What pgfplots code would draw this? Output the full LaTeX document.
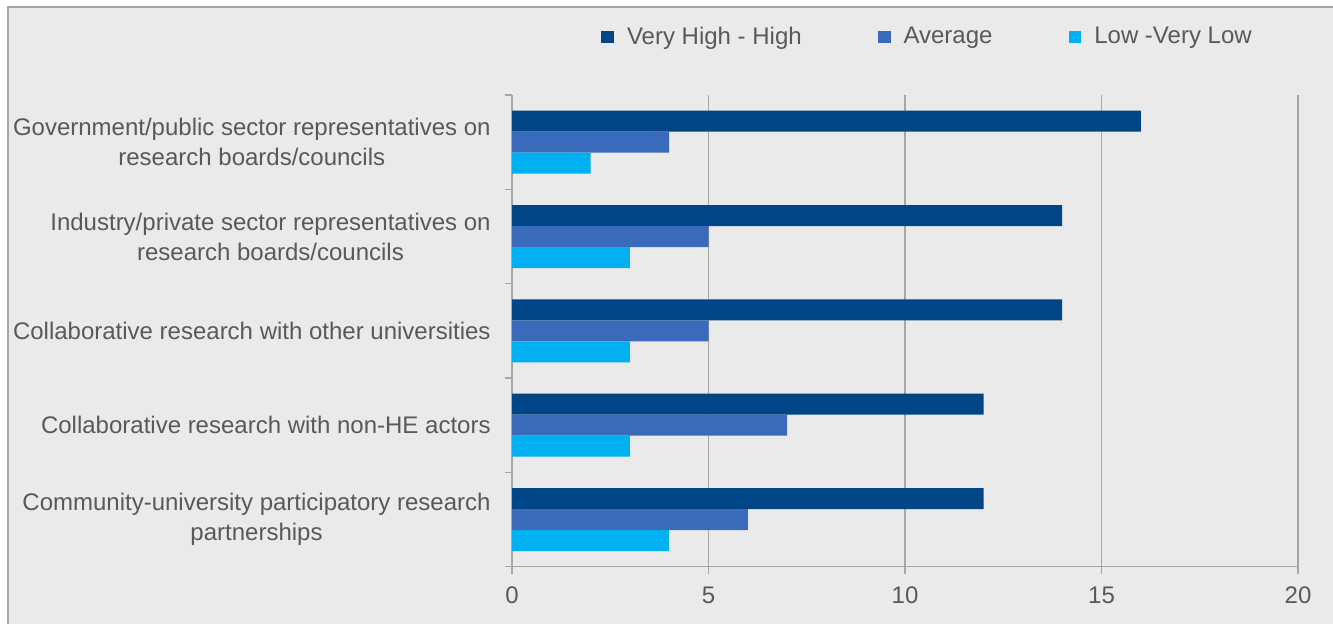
\documentclass[border=0pt]{standalone}
\usepackage{pgfplots}
\pgfplotsset{compat=1.18}
\usepackage{fontspec}
\setmainfont{Liberation Sans}
\definecolor{dkblue}{HTML}{004586}
\definecolor{midblue}{HTML}{3A6BBB}
\definecolor{ltblue}{HTML}{00B0F0}
\definecolor{bgc}{HTML}{EAEAEA}
\definecolor{gridc}{HTML}{A6A6A6}
\definecolor{txt}{HTML}{595959}
\begin{document}
\begin{tikzpicture}
\path[use as bounding box] (0,0) rectangle (666.5pt,311.5pt);
\fill[white] (0,0) rectangle (666.5pt,311.5pt);
\draw[gridc, line width=1pt, fill=bgc] (3.75pt,-5pt) rectangle (675pt,307.75pt);
\begin{axis}[
  at={(256pt,28.15pt)}, anchor=south west,
  scale only axis, width=393pt, height=235.85pt,
  xbar, bar width=10.5pt,
  xmin=0, xmax=20, ymin=-0.5, ymax=4.5,
  axis lines*=left,
  axis line style={gridc, line width=0.75pt},
  xtick={0,5,10,15,20},
  xmajorgrids,
  grid style={gridc, line width=0.6pt},
  ytick={-0.5,0.5,1.5,2.5,3.5,4.5},
  yticklabels={},
  extra y ticks={0,1,2,3,4},
  extra y tick labels={{Community-university participatory research\\partnerships},
    {Collaborative research with non-HE actors},
    {Collaborative research with other universities},
    {Industry/private sector representatives on\\research boards/councils},
    {Government/public sector representatives on\\research boards/councils}},
  extra y tick style={major tick length=0pt, grid=none,
    yticklabel style={align=center, inner sep=0pt, xshift=-10.5pt, font=\fontsize{12}{15}\selectfont, text=txt}},
  tick align=outside,
  major tick length=3.5pt,
  tick style={gridc, line width=0.75pt},
  xticklabel style={font=\fontsize{12}{14}\selectfont, text=txt, inner sep=0pt, yshift=-6.5pt},
  /pgf/number format/assume math mode=true,
  legend columns=3,
  legend image code/.code={\fill[#1, draw=none] (0pt,-3.2pt) rectangle (6.4pt,3.2pt); \path[draw=none, fill=none] (6.4pt,0pt) -- (10.9pt,0pt);},
  legend style={at={(0.113,1.123)}, anchor=west, draw=none, fill=none, inner sep=0pt,
    font=\fontsize{12}{14}\selectfont, text=txt,
    /tikz/every even column/.append style={column sep=36pt}},
]
\addplot[fill=dkblue, draw=none, bar shift=10.5pt] coordinates {(16,4) (14,3) (14,2) (12,1) (12,0)};
\addlegendentry{Very High - High}
\addplot[fill=midblue, draw=none, bar shift=0pt] coordinates {(4,4) (5,3) (5,2) (7,1) (6,0)};
\addlegendentry{Average}
\addplot[fill=ltblue, draw=none, bar shift=-10.5pt] coordinates {(2,4) (3,3) (3,2) (3,1) (4,0)};
\addlegendentry{Low -Very Low}
\end{axis}
\end{tikzpicture}
\end{document}
